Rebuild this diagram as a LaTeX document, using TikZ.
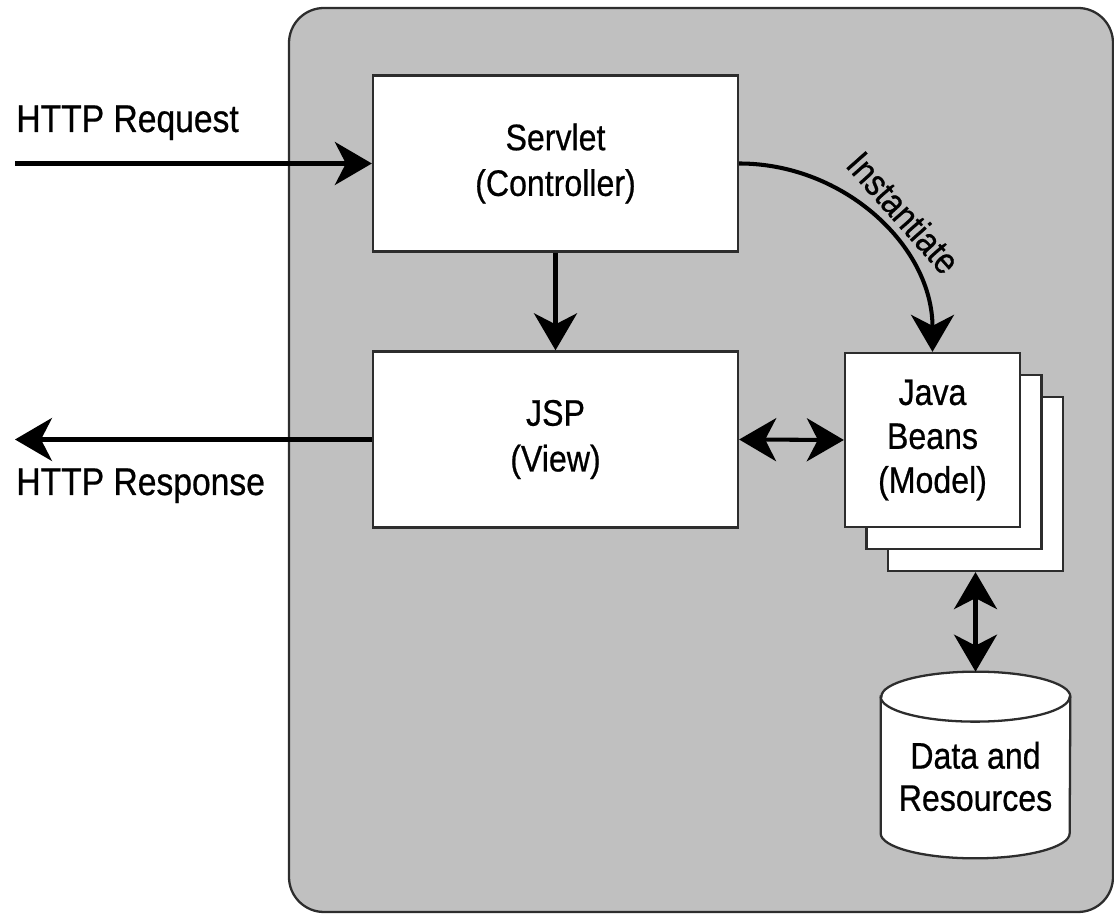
\documentclass[tikz,border=0pt]{standalone}
\usepackage{fontspec}
\setmainfont{Liberation Sans}[FakeStretch=0.87,FakeBold=0.6]
\usetikzlibrary{arrows.meta,calc,positioning}
\definecolor{panelgray}{RGB}{192,192,192}
\definecolor{edgegray}{RGB}{45,45,45}

\begin{document}
\begin{tikzpicture}[
        box/.style={draw=edgegray,line width=1.3pt,fill=white,minimum width=7.3cm,minimum height=3.52cm,align=center,font=\fontsize{21}{26}\selectfont},
        beanbox/.style={draw=edgegray,line width=1.3pt,fill=white,minimum width=3.5cm,minimum height=3.48cm,align=center,font=\fontsize{21}{25}\selectfont},
        tip/.tip={Stealth[length=0.74cm,width=0.86cm,inset=0.22cm]},
        flow/.style={line width=2.3pt,-tip},
        both/.style={line width=2.3pt,tip-tip},
        lbl/.style={font=\fontsize{22}{26}\selectfont,inner sep=0pt}]
            \useasboundingbox (0,0) rectangle (22.28,18.28);
            \draw[draw=edgegray,line width=1.3pt,fill=panelgray,rounded corners=0.7cm] (5.78,0.04) rectangle (22.26,18.12);
            \node[box] (servlet) at (11.11,15.01) {Servlet\\(Controller)};
            \node[box] (jsp) at (11.11,9.49) {JSP\\(View)};
            \node[beanbox] (beans3) at (19.51,8.60) {};
            \node[beanbox] (beans2) at (19.08,9.04) {};
            \node[beanbox] (beans) at (18.65,9.48) {Java\\Beans\\(Model)};
            \node[minimum width=3.78cm,minimum height=3.72cm,inner sep=0pt] (db) at (19.51,2.98) {};
            \draw[draw=edgegray,line width=1.3pt,fill=white] ($(db.north west)+(0,-0.5)$) -- ($(db.south west)+(0,0.5)$)
                arc[start angle=180,end angle=360,x radius=1.89cm,y radius=0.5cm] -- ($(db.north east)+(0,-0.5)$)
                arc[start angle=0,end angle=180,x radius=1.89cm,y radius=0.5cm] -- cycle;
            \draw[draw=edgegray,line width=1.3pt] ($(db.north west)+(0,-0.5)$) arc[start angle=180,end angle=360,x radius=1.89cm,y radius=0.5cm];
            \node[align=center,font=\fontsize{21}{24}\selectfont] (dbtext) at ($(db.center)+(0,-0.23)$) {Data and\\Resources};
            \node[lbl,anchor=base west] (reqlbl) at (0.32,15.64) {HTTP Request};
            \node[lbl,anchor=base west] (reslbl) at (0.32,8.38) {HTTP Response};
            \coordinate (reqin) at (0.3,15.01);
            \coordinate (resout) at (0.3,9.49);
            \draw[flow] (reqin) -- (servlet.west);
            \draw[flow] (jsp.west) -- (resout);
            \draw[flow] (servlet.south) -- (jsp.north);
            \draw[both] (jsp.east) -- (beans.west);
            \draw[both] (beans3.south) -- (db.north);
            \draw[flow] (servlet.east) to[out=0,in=90]
                node[pos=0.55,sloped,above,inner sep=5pt,font=\fontsize{21}{24}\selectfont] {Instantiate} (beans.north);
        \end{tikzpicture}
\end{document}
